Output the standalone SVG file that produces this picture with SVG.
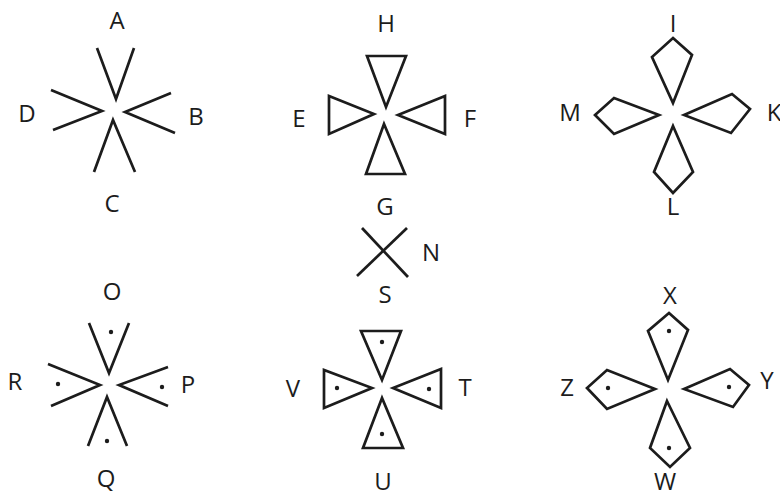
<svg xmlns="http://www.w3.org/2000/svg" width="780" height="497" viewBox="0 0 780 497">
<style>
.s{fill:none;stroke:#1c1c1c;stroke-width:2.7;stroke-linejoin:miter;stroke-linecap:butt}
.t{font-family:"Open Sans","Noto Sans","Liberation Sans",sans-serif;font-size:24px;fill:#1c1c1c;text-anchor:middle}
.d{fill:#1c1c1c}
</style>
<rect width="780" height="497" fill="#ffffff"/>
<g id="A"><polyline class="s" points="97,48 116,99 134,48"/><text class="t" x="117" y="29">A</text></g>
<g id="B"><polyline class="s" points="171,93 125,112 175,133"/><text class="t" x="196" y="125">B</text></g>
<g id="C"><polyline class="s" points="94,172 113,120 135,172"/><text class="t" x="112" y="212">C</text></g>
<g id="D"><polyline class="s" points="51,90 102,111 53,130"/><text class="t" x="27" y="122">D</text></g>
<g id="H"><polygon class="s" points="367,56 406,56 386,107"/><text class="t" x="386" y="32">H</text></g>
<g id="F"><polygon class="s" points="445,96 445,134 398,115"/><text class="t" x="470" y="127">F</text></g>
<g id="G"><polygon class="s" points="384,124 366,174 405,174"/><text class="t" x="385" y="215">G</text></g>
<g id="E"><polygon class="s" points="329,96 329,134 374,114"/><text class="t" x="299" y="127">E</text></g>
<g id="I"><polygon class="s" points="673,38 692,55 673,103 652,57"/><text class="t" x="673" y="32">I</text></g>
<g id="K"><polygon class="s" points="684,115 732,94 750,109 731,133"/><text class="t" x="774" y="121">K</text></g>
<g id="L"><polygon class="s" points="673,126 693,172 673,193 654,172"/><text class="t" x="673" y="215">L</text></g>
<g id="M"><polygon class="s" points="659,115 614,98 595,115 614,134"/><text class="t" x="570" y="121">M</text></g>
<g id="N"><line class="s" x1="362" y1="228" x2="408" y2="277"/><line class="s" x1="407" y1="228" x2="357" y2="276"/><text class="t" x="431" y="261">N</text></g>
<g id="S"><text class="t" x="385" y="303">S</text></g>
<g id="O"><polyline class="s" points="89,323 109,373 129,323"/><circle class="d" cx="111" cy="332" r="2.2"/><text class="t" x="112" y="300">O</text></g>
<g id="P"><polyline class="s" points="168,367 119,385 168,406"/><circle class="d" cx="162" cy="387" r="2.2"/><text class="t" x="188" y="393">P</text></g>
<g id="Q"><polyline class="s" points="88,446 107,397 127,446"/><circle class="d" cx="107" cy="441" r="2.2"/><text class="t" x="106" y="487">Q</text></g>
<g id="R"><polyline class="s" points="48,364 100,385 51,406"/><circle class="d" cx="58" cy="384" r="2.2"/><text class="t" x="15" y="390">R</text></g>
<g id="T"><polygon class="s" points="441,369 441,408 393,388"/><circle class="d" cx="429" cy="389" r="2.2"/><text class="t" x="465" y="396">T</text></g>
<g id="U"><polygon class="s" points="382,398 363,448 403,448"/><circle class="d" cx="382" cy="434" r="2.2"/><text class="t" x="383" y="490">U</text></g>
<g id="V"><polygon class="s" points="324,370 324,408 372,388"/><circle class="d" cx="337" cy="388" r="2.2"/><text class="t" x="293" y="397">V</text></g>
<g id="U-top"><polygon class="s" points="361,331 401,331 382,380"/><circle class="d" cx="382" cy="342" r="2.2"/></g>
<g id="X"><polygon class="s" points="669,313 688,330 668,380 648,331"/><circle class="d" cx="669" cy="331" r="2.2"/><text class="t" x="670" y="304">X</text></g>
<g id="Y"><polygon class="s" points="684,389 730,369 749,385 733,407"/><circle class="d" cx="729" cy="387" r="2.2"/><text class="t" x="767" y="389">Y</text></g>
<g id="W"><polygon class="s" points="667,401 690,448 670,467 650,448"/><circle class="d" cx="669" cy="448" r="2.2"/><text class="t" x="665" y="490">W</text></g>
<g id="Z"><polygon class="s" points="655,389 607,370 587,388 607,409"/><circle class="d" cx="608" cy="388" r="2.2"/><text class="t" x="567" y="396">Z</text></g>
<g id="connectors"/>
</svg>
